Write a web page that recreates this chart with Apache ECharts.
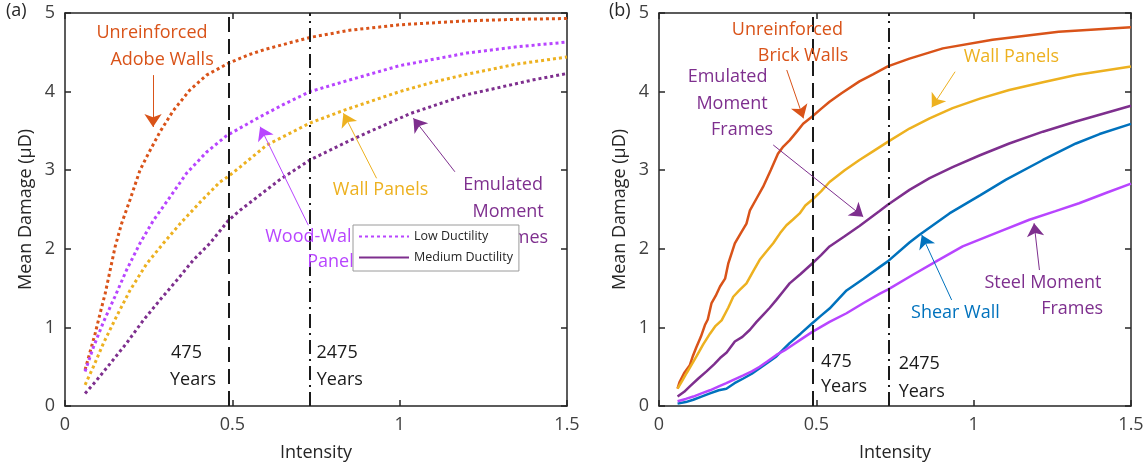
<!DOCTYPE html>
<html><head><meta charset="utf-8">
<script src="https://cdn.jsdelivr.net/npm/echarts@6/dist/echarts.min.js"></script>
<style>html,body{margin:0;padding:0;background:#fff}#c{width:1148px;height:471px}</style>
</head><body><div id="c"></div>
<script>
// ---------- data ----------
const xTickLabels = ['0', '0.5', '1', '1.5'];
const yTickLabels = ['0', '1', '2', '3', '4', '5'];
const returnPeriodX = [0.487, 0.733];   // 475 yr, 2475 yr intensities

// (a) Low ductility (dotted)
const adobeLow = [[0.06,0.46],[0.075,0.69],[0.09,0.92],[0.105,1.18],[0.12,1.43],[0.135,1.73],[0.15,2.03],[0.169,2.32],[0.194,2.62],[0.224,3.0],[0.249,3.21],[0.284,3.49],[0.324,3.76],[0.373,4.02],[0.423,4.21],[0.488,4.36],[0.55,4.47],[0.6,4.54],[0.733,4.69],[0.85,4.78],[1.0,4.85],[1.2,4.9],[1.35,4.92],[1.5,4.93]];
const woodLow = [[0.06,0.44],[0.085,0.75],[0.115,1.07],[0.149,1.39],[0.184,1.73],[0.224,2.07],[0.264,2.36],[0.314,2.66],[0.363,2.96],[0.403,3.14],[0.423,3.23],[0.483,3.44],[0.583,3.68],[0.65,3.83],[0.732,4.0],[0.852,4.15],[1.0,4.33],[1.2,4.49],[1.35,4.57],[1.5,4.63]];
const wallLow = [[0.06,0.27],[0.085,0.5],[0.115,0.8],[0.154,1.14],[0.194,1.47],[0.244,1.81],[0.294,2.07],[0.344,2.32],[0.403,2.59],[0.463,2.85],[0.488,2.92],[0.523,3.04],[0.603,3.32],[0.732,3.6],[0.832,3.76],[1.0,4.0],[1.1,4.12],[1.2,4.22],[1.35,4.35],[1.5,4.44]];
const emfLow = [[0.06,0.16],[0.095,0.33],[0.135,0.54],[0.184,0.8],[0.234,1.09],[0.284,1.35],[0.334,1.6],[0.384,1.86],[0.433,2.07],[0.488,2.36],[0.523,2.49],[0.642,2.88],[0.732,3.13],[0.852,3.38],[1.031,3.72],[1.2,3.96],[1.4,4.15],[1.5,4.23]];

// (b) Medium ductility (solid)
const brickMed = [[0.059,0.22],[0.065,0.3],[0.08,0.42],[0.098,0.52],[0.108,0.64],[0.119,0.75],[0.133,0.88],[0.146,1.03],[0.155,1.1],[0.167,1.31],[0.18,1.4],[0.194,1.52],[0.21,1.62],[0.22,1.81],[0.241,2.07],[0.26,2.2],[0.278,2.32],[0.289,2.49],[0.31,2.64],[0.331,2.79],[0.355,3.0],[0.378,3.21],[0.395,3.3],[0.415,3.38],[0.44,3.5],[0.458,3.59],[0.486,3.68],[0.515,3.78],[0.542,3.87],[0.58,3.98],[0.637,4.13],[0.68,4.22],[0.727,4.32],[0.796,4.42],[0.902,4.55],[1.06,4.66],[1.27,4.76],[1.5,4.82]];
const wallMed = [[0.059,0.22],[0.075,0.33],[0.088,0.42],[0.1,0.5],[0.119,0.63],[0.14,0.78],[0.162,0.92],[0.18,1.02],[0.199,1.09],[0.22,1.25],[0.236,1.39],[0.255,1.47],[0.278,1.56],[0.3,1.72],[0.32,1.86],[0.34,1.96],[0.363,2.07],[0.385,2.2],[0.405,2.3],[0.425,2.37],[0.447,2.45],[0.465,2.55],[0.486,2.62],[0.515,2.73],[0.542,2.85],[0.59,3.0],[0.637,3.13],[0.68,3.24],[0.727,3.36],[0.796,3.53],[0.86,3.66],[0.933,3.79],[1.02,3.91],[1.113,4.02],[1.22,4.12],[1.325,4.21],[1.5,4.32]];
const emfMed = [[0.059,0.12],[0.08,0.18],[0.098,0.25],[0.125,0.35],[0.151,0.44],[0.175,0.53],[0.194,0.61],[0.215,0.68],[0.241,0.82],[0.265,0.88],[0.289,0.97],[0.31,1.07],[0.331,1.16],[0.352,1.25],[0.373,1.35],[0.395,1.46],[0.415,1.56],[0.45,1.68],[0.486,1.81],[0.515,1.92],[0.542,2.03],[0.59,2.16],[0.637,2.29],[0.701,2.48],[0.727,2.56],[0.796,2.75],[0.86,2.9],[0.933,3.04],[1.02,3.19],[1.113,3.34],[1.22,3.49],[1.325,3.62],[1.5,3.82]];
const shearMed = [[0.059,0.03],[0.085,0.05],[0.109,0.08],[0.135,0.12],[0.162,0.16],[0.19,0.2],[0.214,0.22],[0.24,0.29],[0.268,0.35],[0.295,0.41],[0.32,0.48],[0.345,0.55],[0.373,0.63],[0.395,0.72],[0.415,0.8],[0.45,0.92],[0.486,1.05],[0.515,1.15],[0.542,1.24],[0.57,1.36],[0.596,1.47],[0.65,1.62],[0.702,1.77],[0.727,1.84],[0.796,2.08],[0.828,2.18],[0.923,2.45],[1.02,2.68],[1.103,2.88],[1.22,3.13],[1.325,3.34],[1.4,3.46],[1.5,3.59]];
const steelMed = [[0.059,0.06],[0.085,0.09],[0.109,0.12],[0.135,0.16],[0.162,0.2],[0.19,0.25],[0.214,0.29],[0.24,0.34],[0.268,0.39],[0.295,0.44],[0.32,0.5],[0.345,0.57],[0.373,0.65],[0.4,0.71],[0.426,0.78],[0.456,0.86],[0.486,0.94],[0.542,1.07],[0.596,1.18],[0.65,1.31],[0.702,1.43],[0.727,1.48],[0.807,1.67],[0.885,1.85],[0.965,2.03],[1.07,2.2],[1.177,2.37],[1.26,2.48],[1.335,2.58],[1.42,2.71],[1.5,2.83]];

// annotation texts [text, x, y, colorKey]
const labelsA = [
  ['Unreinforced', 0.260, 4.745, 'orange'], ['Adobe Walls', 0.290, 4.40, 'orange'],
  ['Wall Panels', 0.943, 2.75, 'yellow'],
  ['Emulated', 1.309, 2.81, 'purple'], ['Moment', 1.324, 2.47, 'purple'], ['Frames', 1.351, 2.137, 'purple'],
  ['Wood-Wall', 0.734, 2.15, 'violet'], ['Panels', 0.806, 1.83, 'violet'],
  ['475', 0.363, 0.674, 'black'], ['Years', 0.3825, 0.33, 'black'],
  ['2475', 0.813, 0.674, 'black'], ['Years', 0.821, 0.33, 'black']
];
const arrowsA = [
  [0.263, 4.21, 0.263, 3.55, 'orange'],
  [0.931, 2.897, 0.832, 3.724, 'yellow'],
  [1.165, 2.98, 1.041, 3.66, 'purple'],
  [0.727, 2.30, 0.583, 3.553, 'violet']
];
const labelsB = [
  ['Unreinforced', 0.408, 4.784, 'orange'], ['Brick Walls', 0.458, 4.453, 'orange'],
  ['Emulated', 0.218, 4.186, 'purple'], ['Moment', 0.232, 3.842, 'purple'], ['Frames', 0.264, 3.511, 'purple'],
  ['Wall Panels', 1.120, 4.444, 'yellow'],
  ['Shear Wall', 0.942, 1.187, 'blue'],
  ['Steel Moment', 1.220, 1.561, 'purple'], ['Frames', 1.313, 1.23, 'purple'],
  ['475', 0.564, 0.564, 'black'], ['Years', 0.588, 0.246, 'black'],
  ['2475', 0.827, 0.534, 'black'], ['Years', 0.835, 0.18, 'black']
];
const arrowsB = [
  [0.406, 4.275, 0.459, 3.66, 'orange'],
  [0.363, 3.321, 0.649, 2.408, 'purple'],
  [0.941, 4.253, 0.867, 3.80, 'yellow'],
  [0.930, 1.349, 0.835, 2.176, 'blue'],
  [1.209, 1.73, 1.192, 2.324, 'purple']
];

// ---------- styling ----------
const C = {orange:'#D95319', yellow:'#EDB120', purple:'#7E2F8E', violet:'#B845FF', blue:'#0072BD', black:'#1a1a1a'};
const FONT = 'Open Sans';
const axisCol = '#262626';
const dotted = [3, 3];

function xAx(grid, pos, main) {
  return {
    type:'value', gridIndex:grid, position:pos, min:0, max:1.5, interval:0.5,
    name: main ? 'Intensity' : '', nameLocation:'middle', nameGap:38,
    nameTextStyle:{fontFamily:FONT, fontSize:18, color:axisCol},
    axisLine:{show:true, onZero:false, lineStyle:{color:axisCol, width:1.5}},
    axisTick:{show:true, inside:true, length:6, lineStyle:{color:axisCol, width:1.5}},
    axisLabel:{show:main, fontFamily:FONT, fontSize:18, color:'#404040', margin:10,
      formatter:v => xTickLabels[Math.round(v/0.5)]},
    splitLine:{show:false}
  };
}
function yAx(grid, pos, main) {
  return {
    type:'value', gridIndex:grid, position:pos, min:0, max:5, interval:1,
    name: main ? 'Mean Damage (μD)' : '', nameLocation:'middle', nameGap:30,
    nameTextStyle:{fontFamily:FONT, fontSize:18, color:axisCol},
    axisLine:{show:true, onZero:false, lineStyle:{color:axisCol, width:1.5}},
    axisTick:{show:true, inside:true, length:6, lineStyle:{color:axisCol, width:1.5}},
    axisLabel:{show:main, fontFamily:FONT, fontSize:18, color:'#404040', margin:10,
      formatter:v => yTickLabels[Math.round(v)]},
    splitLine:{show:false}
  };
}

function curve(name, data, color, xi, type) {
  return {type:'line', name, data, xAxisIndex:xi, yAxisIndex:xi, showSymbol:false, symbol:'none',
    smooth:false, silent:true, z:2,
    lineStyle:{color, width: type === 'dotted' ? 3 : 2.5, type: type === 'dotted' ? dotted : 'solid', cap:'butt'},
    itemStyle:{color}};
}

function refLines() {
  return {symbol:'none', silent:true, label:{show:false},
    data:[
      {xAxis:returnPeriodX[0], lineStyle:{color:C.black, width:2, type:[15,7]}},
      {xAxis:returnPeriodX[1], lineStyle:{color:C.black, width:2, type:[14,5,2,5]}}
    ]};
}
function arrowLines(arr) {
  return {symbol:['none','arrow'], symbolSize:13, silent:true, label:{show:false},
    data: arr.map(a => [
      {coord:[a[0],a[1]], lineStyle:{color:C[a[4]], width:1, type:'solid'}, itemStyle:{color:C[a[4]]}},
      {coord:[a[2],a[3]], itemStyle:{color:C[a[4]]}}
    ])};
}
function textPoints(arr) {
  return {symbol:'circle', symbolSize:1, silent:true, itemStyle:{color:'transparent'},
    label:{show:true, position:'inside', formatter:'{b}', fontFamily:FONT, fontSize:18},
    data: arr.map(a => ({name:a[0], coord:[a[1],a[2]],
      label:{color: a[3]==='black' ? '#1a1a1a' : C[a[3]]}}))};
}

// host series for annotations (no data of their own)
const leftRef = curve('_refA', [], C.black, 0, 'solid');
leftRef.markLine = refLines();
const leftArr = curve('_arrA', [], C.black, 0, 'solid');
leftArr.markLine = arrowLines(arrowsA);
leftArr.markPoint = textPoints(labelsA);

const rightRef = curve('_refB', [], C.black, 2, 'solid');
rightRef.markLine = refLines();
const rightArr = curve('_arrB', [], C.black, 2, 'solid');
rightArr.markLine = arrowLines(arrowsB);
rightArr.markPoint = textPoints(labelsB);

const option = {
  animation:false,
  backgroundColor:'#fff',
  title:[
    {text:'(a)', left:6, top:2, padding:0, textStyle:{fontFamily:FONT, fontSize:18, fontWeight:'normal', color:axisCol}},
    {text:'(b)', left:609, top:2, padding:0, textStyle:{fontFamily:FONT, fontSize:18, fontWeight:'normal', color:axisCol}}
  ],
  grid:[
    {left:65, right:581, top:13, bottom:65},
    {left:659, right:17, top:13, bottom:65}
  ],
  xAxis:[xAx(0,'bottom',true), xAx(0,'top',false), xAx(1,'bottom',true), xAx(1,'top',false)],
  yAxis:[yAx(0,'left',true), yAx(0,'right',false), yAx(1,'left',true), yAx(1,'right',false)],
  legend:{
    data:['Low Ductility','Medium Ductility'], orient:'vertical', left:353, top:225,
    padding:[5,6,7,5], itemGap:8, itemWidth:50, itemHeight:14, z:10,
    selectedMode:false,
    itemStyle:{opacity:0, borderWidth:0},
    textStyle:{fontFamily:FONT, fontSize:12.5, color:axisCol},
    backgroundColor:'#fff', borderColor:'#9a9a9a', borderWidth:1, borderRadius:0
  },
  series:[
    leftRef,
    curve('Adobe', adobeLow, C.orange, 0, 'dotted'),
    curve('Wood', woodLow, C.violet, 0, 'dotted'),
    curve('WallLow', wallLow, C.yellow, 0, 'dotted'),
    curve('EMFLow', emfLow, C.purple, 0, 'dotted'),
    leftArr,
    curve('Low Ductility', [], C.violet, 0, 'dotted'),
    curve('Medium Ductility', [], C.purple, 0, 'solid'),
    rightRef,
    curve('Brick', brickMed, C.orange, 2, 'solid'),
    curve('WallMed', wallMed, C.yellow, 2, 'solid'),
    curve('EMFMed', emfMed, C.purple, 2, 'solid'),
    curve('Shear', shearMed, C.blue, 2, 'solid'),
    curve('Steel', steelMed, C.violet, 2, 'solid'),
    rightArr
  ]
};
const chart = echarts.init(document.getElementById('c'), null, {renderer:'canvas'});
chart.setOption(option);
</script>
</body></html>
